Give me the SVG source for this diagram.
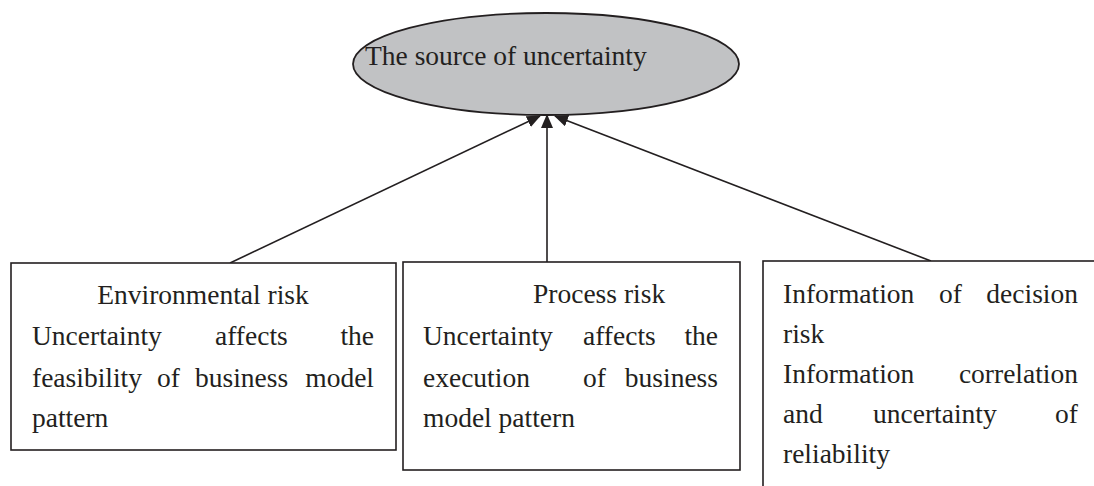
<svg xmlns="http://www.w3.org/2000/svg" width="1094" height="486" viewBox="0 0 1094 486">
<defs>
<style>
text{font-family:"Liberation Serif","Times New Roman",serif;font-size:27.5px;fill:#231f20}
.box{fill:#fff;stroke:#231f20;stroke-width:1.6}
.conn{stroke:#231f20;stroke-width:1.6;fill:none}
.e{text-anchor:end}
</style>
<marker id="ah" viewBox="0 0 14 12" refX="13" refY="6" markerWidth="14" markerHeight="12" markerUnits="userSpaceOnUse" orient="auto">
<path d="M0,0 L14,6 L0,12 z" fill="#231f20"/>
</marker>
</defs>
<rect width="1094" height="486" fill="#fff"/>
<g id="connectors">
<line class="conn" x1="230" y1="263" x2="540" y2="116" marker-end="url(#ah)"/>
<line class="conn" x1="547" y1="262" x2="547" y2="115" marker-end="url(#ah)"/>
<line class="conn" x1="931" y1="261" x2="555" y2="116" marker-end="url(#ah)"/>
</g>
<g id="source">
<ellipse cx="546" cy="64" rx="193" ry="51" fill="#c1c2c4" stroke="#231f20" stroke-width="1.8"/>
<text x="365" y="65">The source of uncertainty</text>
</g>
<g id="environmental">
<rect class="box" x="11" y="263" width="385" height="187"/>
<text x="203" y="304" text-anchor="middle">Environmental risk</text>
<text x="32" y="345">Uncertainty</text><text x="215" y="345">affects</text><text class="e" x="374" y="345">the</text>
<text x="32" y="387">feasibility</text><text x="157" y="387">of</text><text x="195" y="387">business</text><text class="e" x="374" y="387">model</text>
<text x="32" y="427">pattern</text>
</g>
<g id="process">
<rect class="box" x="403" y="262" width="337" height="208"/>
<text x="533" y="303">Process risk</text>
<text x="423" y="345">Uncertainty</text><text x="583" y="345">affects</text><text class="e" x="718" y="345">the</text>
<text x="423" y="387">execution</text><text x="583" y="387">of</text><text class="e" x="718" y="387">business</text>
<text x="423" y="427">model pattern</text>
</g>
<g id="information">
<rect class="box" x="763" y="261" width="400" height="300"/>
<text x="783" y="303">Information</text><text x="939" y="303">of</text><text class="e" x="1078" y="303">decision</text>
<text x="783" y="343">risk</text>
<text x="783" y="383">Information</text><text class="e" x="1078" y="383">correlation</text>
<text x="783" y="423">and</text><text x="873" y="423">uncertainty</text><text class="e" x="1078" y="423">of</text>
<text x="783" y="463">reliability</text>
</g>
</svg>
